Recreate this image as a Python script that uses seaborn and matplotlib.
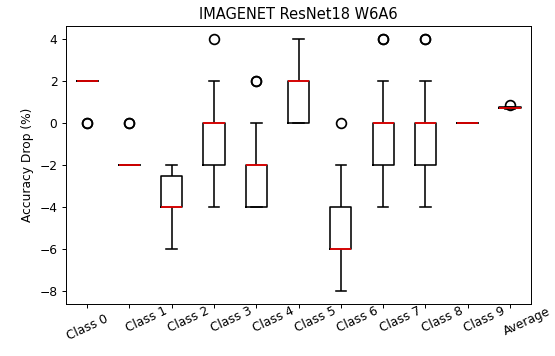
import numpy as np
import pandas as pd
import seaborn as sns
import matplotlib
matplotlib.use("Agg")
import matplotlib.pyplot as plt
from matplotlib.transforms import ScaledTranslation

categories = ["Class 0", "Class 1", "Class 2", "Class 3", "Class 4",
              "Class 5", "Class 6", "Class 7", "Class 8", "Class 9", "Average"]

class_0 = [0, 0, 2, 2, 2, 2, 2, 2, 2, 2, 2, 2, 2, 2]
class_1 = [-2, -2, -2, -2, -2, -2, -2, -2, -2, -2, -2, -2, 0, 0]
class_2 = [-6, -4, -4, -4, -4, -4, -4, -4, -4, -4, -2, -2, -2, -2]
class_3 = [-4, -2, -2, -2, -2, -2, 0, 0, 0, 0, 0, 2, 2, 4]
class_4 = [-4, -4, -4, -4, -4, -2, -2, -2, -2, -2, -2, 0, 2, 2]
class_5 = [0, 0, 0, 0, 0, 0, 2, 2, 2, 2, 2, 4, 4, 4]
class_6 = [-8, -6, -6, -6, -6, -6, -6, -6, -4, -4, -4, -2, -2, 0]
class_7 = [-4, -2, -2, -2, -2, -2, 0, 0, 0, 0, 0, 2, 4, 4]
class_8 = [-4, -2, -2, -2, -2, -2, 0, 0, 0, 0, 0, 2, 4, 4]
class_9 = [0, 0, 0, 0, 0, 0, 0, 0, 0, 0, 0, 0, 0, 0]
average = [0.66, 0.68, 0.69, 0.70, 0.71, 0.72, 0.72, 0.73, 0.73, 0.74,
           0.74, 0.75, 0.76, 0.85]

series = [class_0, class_1, class_2, class_3, class_4, class_5,
          class_6, class_7, class_8, class_9, average]

df = pd.DataFrame({
    "cls": np.repeat(categories, [len(s) for s in series]),
    "drop": np.concatenate([np.asarray(s, dtype=float) for s in series]),
})

DPI = 88
fig, ax = plt.subplots(figsize=(555 / DPI, 356 / DPI), dpi=DPI)
fig.subplots_adjust(left=0.119, right=0.957, top=0.927, bottom=0.146)

sns.boxplot(
    data=df, x="cls", y="drop", order=categories, ax=ax,
    fill=False, color="black", width=0.5, linewidth=1.3, whis=1.5,
    medianprops=dict(color="red", linewidth=1.3),
    flierprops=dict(marker="o", markersize=8, markerfacecolor="none",
                    markeredgecolor="black", markeredgewidth=1.4),
)

ax.set_title("IMAGENET ResNet18 W6A6")
ax.set_xlabel("")
ax.set_ylabel("Accuracy Drop (%)")
ax.set_yticks([-8, -6, -4, -2, 0, 2, 4])

shift = ScaledTranslation(17 / DPI, 8 / DPI, fig.dpi_scale_trans)
for i, lab in enumerate(ax.get_xticklabels()):
    lab.set_rotation(25)
    lab.set_ha("center")
    if i > 0:
        lab.set_transform(lab.get_transform() + shift)

fig.savefig("out.png", dpi=DPI)
